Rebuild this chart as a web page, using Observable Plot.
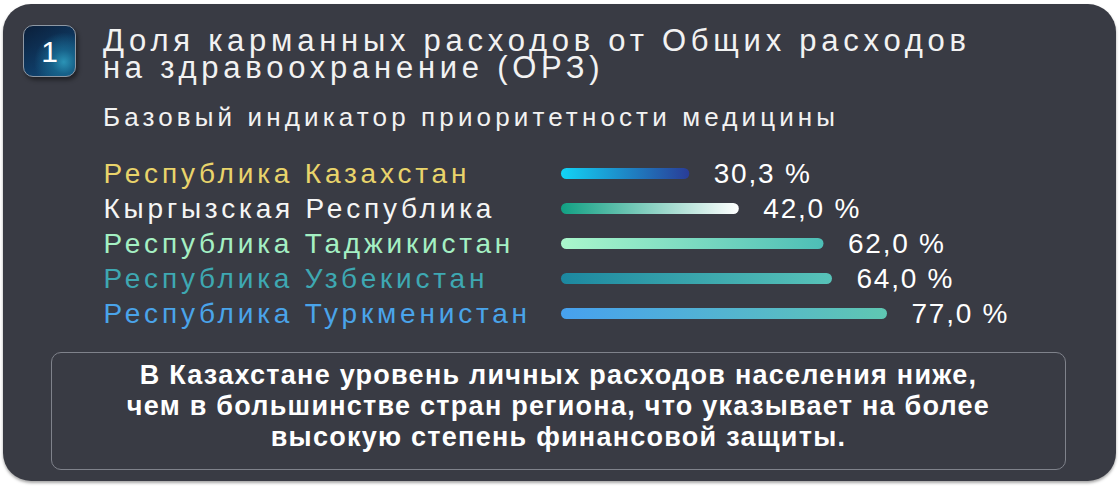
<!DOCTYPE html>
<html><head><meta charset="utf-8">
<script src="https://cdn.jsdelivr.net/npm/d3@7"></script>
<script src="https://cdn.jsdelivr.net/npm/@observablehq/plot@0.6"></script>
<style>
html,body{margin:0;padding:0;background:#fff;width:1120px;height:486px;overflow:hidden;font-family:"Liberation Sans",Arial,sans-serif;}
#card{position:absolute;left:3px;top:4px;width:1113px;height:477px;background:#393b44;border-radius:28px;box-shadow:0 2px 3px rgba(0,0,0,0.35);}
#badge{position:absolute;left:23px;top:25px;width:53px;height:52px;border-radius:10px;border:1px solid #8e98a4;box-sizing:border-box;
 background:radial-gradient(circle at 78% 72%, #2b93b6 0%, #17628a 22%, rgba(16,60,100,0) 55%), linear-gradient(150deg,#0b1f3a 0%,#0f3a63 60%,#12507e 100%);
 box-shadow:2px 3px 4px rgba(0,0,0,0.45);color:#fff;font-size:30px;line-height:52px;text-align:center;}
.t{position:absolute;left:103px;color:#f2f2f2;white-space:nowrap;}
.t span{display:inline-block;}
#title1{top:28px;font-size:31px;line-height:26px;}
#title2{top:55px;font-size:31px;line-height:26px;}
#subtitle{top:102px;font-size:26px;line-height:30px;}
#chart{position:absolute;left:0;top:150px;}
#box{position:absolute;left:51px;top:352px;width:1015px;height:118px;border:1px solid #7f828b;border-radius:10px;box-sizing:border-box;}
#note{position:absolute;left:0;top:360px;width:1117px;text-align:center;color:#fff;font-weight:bold;font-size:27px;line-height:31px;}
#note span{display:inline-block;white-space:nowrap;}
</style></head>
<body>
<div id="card"></div>
<div id="badge">1</div>
<div class="t" id="title1"><span id="tl1"></span></div>
<div class="t" id="title2"><span id="tl2"></span></div>
<div class="t" id="subtitle"><span id="st"></span></div>
<div id="chart"></div>
<div id="box"></div>
<div id="note"></div>
<script>
// ---- data ----
const titleLines = ["Доля карманных расходов от Общих расходов", "на здравоохранение  (ОРЗ)"];
const subtitle = "Базовый индикатор приоритетности медицины";
const countries = ["Республика Казахстан", "Кыргызская Республика", "Республика Таджикистан", "Республика Узбекистан", "Республика Туркменистан"];
const values = [30.3, 42.0, 62.0, 64.0, 77.0];
const noteLines = ["В Казахстане уровень личных расходов населения ниже,", "чем в большинстве стран региона, что указывает на более", "высокую степень финансовой защиты."];

// ---- styles ----
const labelColors = ["#e9d46b", "#f5f5f5", "#a4f0c3", "#3ea8b2", "#4aa4ea"];
const barStartColors = ["#12d4f6", "#11a083", "#aaf7cc", "#1c88a0", "#47a1ef"];
const barEndColors = ["#293c97", "#ffffff", "#4dbeb6", "#58c3b9", "#5fc7b2"];

function fitSpan(el, target) {
  el.style.letterSpacing = "0px";
  const w = el.getBoundingClientRect().width;
  const n = el.textContent.length;
  const ls = (target - w) / Math.max(1, n - 1);
  el.style.letterSpacing = ls + "px";
  return ls;
}

document.getElementById("tl1").textContent = titleLines[0];
document.getElementById("tl2").textContent = titleLines[1];
document.getElementById("st").textContent = subtitle;
const lsT = fitSpan(document.getElementById("tl1"), 863);
document.getElementById("tl2").style.letterSpacing = lsT + "px";
fitSpan(document.getElementById("st"), 732);

const note = document.getElementById("note");
noteLines.forEach((l, i) => {
  const s = document.createElement("span");
  s.textContent = l;
  note.appendChild(s);
  if (i < noteLines.length - 1) note.appendChild(document.createElement("br"));
});
const spans = note.querySelectorAll("span");
const lsN = fitSpan(spans[1], 862);
spans.forEach(s => s.style.letterSpacing = lsN + "px");

const fmt = v => v.toFixed(1).replace(".", ",") + " %";
const data = countries.map((c, i) => ({country: c, value: values[i], grad: `url(#g${i})`, color: labelColors[i]}));

const plot = Plot.plot({
  width: 1120,
  height: 185,
  margin: 0,
  x: {domain: [0, d3.max(values)], range: [561, 887], axis: null},
  y: {domain: countries, range: [5, 182], padding: 0, axis: null},
  color: {type: "identity"},
  style: {background: "transparent", fontFamily: "'Liberation Sans', Arial, sans-serif", overflow: "visible"},
  marks: [
    Plot.barX(data, {x: "value", y: "country", fill: "grad", rx: 5.5, insetTop: 12, insetBottom: 12}),
    Plot.text(data, {y: "country", frameAnchor: "left", dx: 103, text: "country", fill: "color", fontSize: 28, textAnchor: "start"}),
    Plot.text(data, {x: "value", y: "country", text: d => fmt(d.value), dx: 24, textAnchor: "start", fill: "#ffffff", fontSize: 28})
  ]
});
document.getElementById("chart").appendChild(plot);

const svg = d3.select(plot);
const defs = svg.insert("defs", ":first-child");
values.forEach((v, i) => {
  const g = defs.append("linearGradient").attr("id", "g" + i).attr("x1", 0).attr("x2", 1).attr("y1", 0).attr("y2", 0);
  g.append("stop").attr("offset", "0%").attr("stop-color", barStartColors[i]);
  g.append("stop").attr("offset", "100%").attr("stop-color", barEndColors[i]);
});

// letter spacing for the label groups (first text group = countries, second = values)
const textGroups = svg.selectAll('g[aria-label="text"]').nodes();
if (textGroups[0]) textGroups[0].querySelectorAll("text").forEach(e => e.style.letterSpacing = "3.8px");
function fitSvgGroup(group, idx, target) {
  if (!group) return;
  const texts = Array.from(group.querySelectorAll("text"));
  const t = texts[idx];
  if (!t) return;
  t.style.letterSpacing = "0px";
  const w = t.getComputedTextLength();
  const n = t.textContent.length;
  const ls = (target - w) / (n - 1);
  texts.forEach(e => e.style.letterSpacing = ls + "px");
}
fitSvgGroup(textGroups[1], 4, 96);
</script>
</body></html>
